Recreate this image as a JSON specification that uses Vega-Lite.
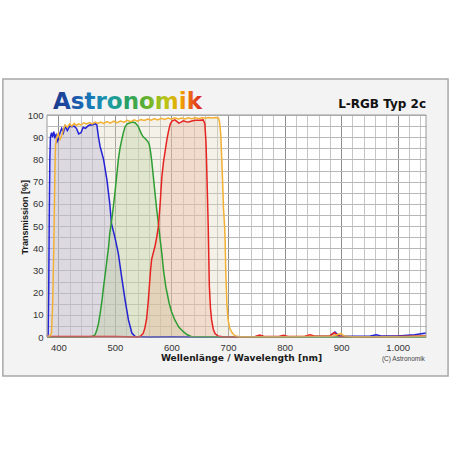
{
  "$schema": "https://vega.github.io/schema/vega-lite/v6.json",
  "width": 379,
  "height": 222,
  "autosize": {"type": "none"},
  "padding": {"left": 47, "top": 115, "right": 29, "bottom": 118},
  "background": "#f3f3f3",
  "view": {"stroke": null, "fill": "white"},
  "config": {
    "axis": {
      "domain": false,
      "ticks": false,
      "labelOverlap": false,
      "labelFont": "Liberation Sans",
      "labelFontSize": 9.5,
      "labelColor": "#333333",
      "titleColor": "#1a1a1a",
      "titleFontWeight": "bold",
      "gridWidth": 1
    }
  },
  "datasets": {
    "curves": [
      {"f": "B", "wl": 380, "t": 0.3}, {"f": "B", "wl": 382, "t": 1}, {"f": "B", "wl": 383, "t": 20}, {"f": "B", "wl": 384, "t": 55},
      {"f": "B", "wl": 385, "t": 80}, {"f": "B", "wl": 386, "t": 90}, {"f": "B", "wl": 388, "t": 92}, {"f": "B", "wl": 390, "t": 90},
      {"f": "B", "wl": 392, "t": 92.5}, {"f": "B", "wl": 394, "t": 90}, {"f": "B", "wl": 396, "t": 91}, {"f": "B", "wl": 398, "t": 88},
      {"f": "B", "wl": 400, "t": 89}, {"f": "B", "wl": 403, "t": 92}, {"f": "B", "wl": 406, "t": 94}, {"f": "B", "wl": 409, "t": 92},
      {"f": "B", "wl": 412, "t": 95}, {"f": "B", "wl": 416, "t": 93}, {"f": "B", "wl": 420, "t": 95}, {"f": "B", "wl": 424, "t": 94.7},
      {"f": "B", "wl": 428, "t": 95}, {"f": "B", "wl": 432, "t": 94}, {"f": "B", "wl": 436, "t": 91.5}, {"f": "B", "wl": 440, "t": 92},
      {"f": "B", "wl": 444, "t": 94.5}, {"f": "B", "wl": 448, "t": 94}, {"f": "B", "wl": 452, "t": 95}, {"f": "B", "wl": 456, "t": 95.6},
      {"f": "B", "wl": 460, "t": 95.5}, {"f": "B", "wl": 465, "t": 96}, {"f": "B", "wl": 468, "t": 95.6}, {"f": "B", "wl": 471, "t": 90},
      {"f": "B", "wl": 474, "t": 85.7}, {"f": "B", "wl": 480, "t": 80}, {"f": "B", "wl": 486, "t": 70.7}, {"f": "B", "wl": 491, "t": 60},
      {"f": "B", "wl": 494, "t": 51}, {"f": "B", "wl": 500, "t": 45}, {"f": "B", "wl": 506, "t": 37.8}, {"f": "B", "wl": 512, "t": 27},
      {"f": "B", "wl": 518, "t": 16.7}, {"f": "B", "wl": 524, "t": 7.7}, {"f": "B", "wl": 530, "t": 1.8}, {"f": "B", "wl": 536, "t": 0.2},
      {"f": "B", "wl": 560, "t": 0}, {"f": "B", "wl": 600, "t": 0.1}, {"f": "B", "wl": 650, "t": 0}, {"f": "B", "wl": 700, "t": 0},
      {"f": "B", "wl": 800, "t": 0}, {"f": "B", "wl": 850, "t": 0.2}, {"f": "B", "wl": 880, "t": 0.5}, {"f": "B", "wl": 889, "t": 2.3},
      {"f": "B", "wl": 895, "t": 0.8}, {"f": "B", "wl": 900, "t": 0.3}, {"f": "B", "wl": 950, "t": 0.3}, {"f": "B", "wl": 962, "t": 1},
      {"f": "B", "wl": 972, "t": 0.4}, {"f": "B", "wl": 1000, "t": 0.4}, {"f": "B", "wl": 1030, "t": 1}, {"f": "B", "wl": 1050, "t": 1.8},

      {"f": "G", "wl": 380, "t": 0}, {"f": "G", "wl": 450, "t": 0}, {"f": "G", "wl": 460, "t": 0.2}, {"f": "G", "wl": 465, "t": 1},
      {"f": "G", "wl": 468, "t": 3}, {"f": "G", "wl": 471, "t": 6}, {"f": "G", "wl": 474, "t": 10.7}, {"f": "G", "wl": 477, "t": 16},
      {"f": "G", "wl": 480, "t": 22.7}, {"f": "G", "wl": 483, "t": 28.5}, {"f": "G", "wl": 486, "t": 34.7}, {"f": "G", "wl": 489, "t": 41},
      {"f": "G", "wl": 491, "t": 46.8}, {"f": "G", "wl": 494, "t": 52}, {"f": "G", "wl": 497, "t": 58}, {"f": "G", "wl": 500, "t": 64.7},
      {"f": "G", "wl": 503, "t": 72}, {"f": "G", "wl": 506, "t": 79.7}, {"f": "G", "wl": 509, "t": 85}, {"f": "G", "wl": 512, "t": 88.7},
      {"f": "G", "wl": 515, "t": 92}, {"f": "G", "wl": 518, "t": 94.7}, {"f": "G", "wl": 522, "t": 96}, {"f": "G", "wl": 527, "t": 96.5},
      {"f": "G", "wl": 532, "t": 96.8}, {"f": "G", "wl": 536, "t": 96.4}, {"f": "G", "wl": 541, "t": 95}, {"f": "G", "wl": 544, "t": 93.2},
      {"f": "G", "wl": 547, "t": 91.5}, {"f": "G", "wl": 550, "t": 90.2}, {"f": "G", "wl": 553, "t": 89.5}, {"f": "G", "wl": 556, "t": 88.7},
      {"f": "G", "wl": 559, "t": 87.8}, {"f": "G", "wl": 561, "t": 86.5}, {"f": "G", "wl": 563, "t": 83.5}, {"f": "G", "wl": 565, "t": 79.7},
      {"f": "G", "wl": 568, "t": 72.2}, {"f": "G", "wl": 571, "t": 64.7}, {"f": "G", "wl": 574, "t": 57.2}, {"f": "G", "wl": 577, "t": 51},
      {"f": "G", "wl": 580, "t": 44}, {"f": "G", "wl": 583, "t": 37.7}, {"f": "G", "wl": 586, "t": 30}, {"f": "G", "wl": 590, "t": 22.7},
      {"f": "G", "wl": 596, "t": 15.2}, {"f": "G", "wl": 600, "t": 11.5}, {"f": "G", "wl": 606, "t": 7.7}, {"f": "G", "wl": 613, "t": 4.5},
      {"f": "G", "wl": 621, "t": 2.4}, {"f": "G", "wl": 628, "t": 1}, {"f": "G", "wl": 635, "t": 0.2}, {"f": "G", "wl": 700, "t": 0},
      {"f": "G", "wl": 1050, "t": 0},

      {"f": "R", "wl": 380, "t": 0.2}, {"f": "R", "wl": 500, "t": 0.2}, {"f": "R", "wl": 540, "t": 0}, {"f": "R", "wl": 545, "t": 0.3},
      {"f": "R", "wl": 550, "t": 1.6}, {"f": "R", "wl": 553, "t": 4}, {"f": "R", "wl": 556, "t": 8}, {"f": "R", "wl": 559, "t": 16},
      {"f": "R", "wl": 561, "t": 23}, {"f": "R", "wl": 563, "t": 30}, {"f": "R", "wl": 565, "t": 35}, {"f": "R", "wl": 568, "t": 38},
      {"f": "R", "wl": 571, "t": 41}, {"f": "R", "wl": 574, "t": 45}, {"f": "R", "wl": 577, "t": 50}, {"f": "R", "wl": 580, "t": 60},
      {"f": "R", "wl": 583, "t": 72}, {"f": "R", "wl": 586, "t": 79}, {"f": "R", "wl": 589, "t": 84}, {"f": "R", "wl": 592, "t": 89},
      {"f": "R", "wl": 595, "t": 93}, {"f": "R", "wl": 598, "t": 96}, {"f": "R", "wl": 601, "t": 97.3}, {"f": "R", "wl": 606, "t": 97.8},
      {"f": "R", "wl": 610, "t": 97}, {"f": "R", "wl": 613, "t": 96.3}, {"f": "R", "wl": 617, "t": 96.8}, {"f": "R", "wl": 621, "t": 97.4},
      {"f": "R", "wl": 626, "t": 97}, {"f": "R", "wl": 630, "t": 96.9}, {"f": "R", "wl": 636, "t": 97.3}, {"f": "R", "wl": 642, "t": 97.6},
      {"f": "R", "wl": 650, "t": 97.6}, {"f": "R", "wl": 656, "t": 97.8}, {"f": "R", "wl": 659, "t": 96.2}, {"f": "R", "wl": 661, "t": 88},
      {"f": "R", "wl": 662, "t": 79.7}, {"f": "R", "wl": 663, "t": 70}, {"f": "R", "wl": 665, "t": 50}, {"f": "R", "wl": 667, "t": 23},
      {"f": "R", "wl": 669, "t": 13}, {"f": "R", "wl": 671, "t": 7.7}, {"f": "R", "wl": 674, "t": 3.5}, {"f": "R", "wl": 677, "t": 1.6},
      {"f": "R", "wl": 682, "t": 0.5}, {"f": "R", "wl": 690, "t": 0.1}, {"f": "R", "wl": 720, "t": 0}, {"f": "R", "wl": 748, "t": 0.2},
      {"f": "R", "wl": 756, "t": 0.9}, {"f": "R", "wl": 764, "t": 0.2}, {"f": "R", "wl": 790, "t": 0.2}, {"f": "R", "wl": 798, "t": 0.8},
      {"f": "R", "wl": 806, "t": 0.2}, {"f": "R", "wl": 836, "t": 0.3}, {"f": "R", "wl": 845, "t": 1}, {"f": "R", "wl": 854, "t": 0.3},
      {"f": "R", "wl": 880, "t": 0.5}, {"f": "R", "wl": 888, "t": 2}, {"f": "R", "wl": 894, "t": 0.5}, {"f": "R", "wl": 900, "t": 0.2},
      {"f": "R", "wl": 950, "t": 0.1}, {"f": "R", "wl": 1000, "t": 0.2}, {"f": "R", "wl": 1050, "t": 0.5},

      {"f": "L", "wl": 380, "t": 0.3}, {"f": "L", "wl": 386, "t": 0.5}, {"f": "L", "wl": 388, "t": 2}, {"f": "L", "wl": 390, "t": 15},
      {"f": "L", "wl": 392, "t": 40}, {"f": "L", "wl": 394, "t": 75}, {"f": "L", "wl": 395, "t": 86}, {"f": "L", "wl": 397, "t": 90},
      {"f": "L", "wl": 400, "t": 91.7}, {"f": "L", "wl": 403, "t": 89}, {"f": "L", "wl": 406, "t": 90.5}, {"f": "L", "wl": 409, "t": 93.5},
      {"f": "L", "wl": 412, "t": 95.5}, {"f": "L", "wl": 416, "t": 94.5}, {"f": "L", "wl": 420, "t": 96}, {"f": "L", "wl": 424, "t": 95},
      {"f": "L", "wl": 428, "t": 96.2}, {"f": "L", "wl": 432, "t": 95.3}, {"f": "L", "wl": 436, "t": 96}, {"f": "L", "wl": 440, "t": 95.5},
      {"f": "L", "wl": 445, "t": 96.5}, {"f": "L", "wl": 450, "t": 96}, {"f": "L", "wl": 455, "t": 96.6}, {"f": "L", "wl": 460, "t": 96},
      {"f": "L", "wl": 465, "t": 96.8}, {"f": "L", "wl": 470, "t": 96.2}, {"f": "L", "wl": 475, "t": 96.8}, {"f": "L", "wl": 480, "t": 96.2},
      {"f": "L", "wl": 486, "t": 97}, {"f": "L", "wl": 492, "t": 96.3}, {"f": "L", "wl": 498, "t": 97.2}, {"f": "L", "wl": 504, "t": 96.5},
      {"f": "L", "wl": 510, "t": 97.3}, {"f": "L", "wl": 516, "t": 96.8}, {"f": "L", "wl": 522, "t": 97.6}, {"f": "L", "wl": 528, "t": 97},
      {"f": "L", "wl": 534, "t": 97.8}, {"f": "L", "wl": 540, "t": 97.2}, {"f": "L", "wl": 546, "t": 98}, {"f": "L", "wl": 552, "t": 97.5},
      {"f": "L", "wl": 558, "t": 98.2}, {"f": "L", "wl": 564, "t": 97.7}, {"f": "L", "wl": 570, "t": 98.4}, {"f": "L", "wl": 576, "t": 97.8},
      {"f": "L", "wl": 582, "t": 98.5}, {"f": "L", "wl": 588, "t": 98}, {"f": "L", "wl": 594, "t": 98.6}, {"f": "L", "wl": 600, "t": 98.1},
      {"f": "L", "wl": 606, "t": 98.7}, {"f": "L", "wl": 612, "t": 98.2}, {"f": "L", "wl": 618, "t": 98.6}, {"f": "L", "wl": 624, "t": 98.2},
      {"f": "L", "wl": 630, "t": 98.7}, {"f": "L", "wl": 636, "t": 98.3}, {"f": "L", "wl": 642, "t": 98.8}, {"f": "L", "wl": 648, "t": 98.4},
      {"f": "L", "wl": 654, "t": 98.8}, {"f": "L", "wl": 660, "t": 98.5}, {"f": "L", "wl": 666, "t": 98.9}, {"f": "L", "wl": 672, "t": 98.6},
      {"f": "L", "wl": 678, "t": 98.9}, {"f": "L", "wl": 683, "t": 98.7}, {"f": "L", "wl": 685, "t": 97}, {"f": "L", "wl": 687, "t": 92},
      {"f": "L", "wl": 689, "t": 80}, {"f": "L", "wl": 691, "t": 66}, {"f": "L", "wl": 692, "t": 58}, {"f": "L", "wl": 694, "t": 50},
      {"f": "L", "wl": 695, "t": 42}, {"f": "L", "wl": 696, "t": 30}, {"f": "L", "wl": 698, "t": 15}, {"f": "L", "wl": 700, "t": 8},
      {"f": "L", "wl": 703, "t": 4}, {"f": "L", "wl": 707, "t": 2}, {"f": "L", "wl": 712, "t": 0.6}, {"f": "L", "wl": 720, "t": 0.1},
      {"f": "L", "wl": 800, "t": 0.1}, {"f": "L", "wl": 850, "t": 0.2}, {"f": "L", "wl": 885, "t": 0.3}, {"f": "L", "wl": 895, "t": 1.2},
      {"f": "L", "wl": 900, "t": 1.5}, {"f": "L", "wl": 905, "t": 0.5}, {"f": "L", "wl": 920, "t": 0.1}, {"f": "L", "wl": 1000, "t": 0.1},
      {"f": "L", "wl": 1050, "t": 0.3}
    ]
  },
  "layer": [
    {
      "data": {"values": [{}]},
      "mark": {"type": "rect", "fill": "white", "strokeWidth": 0},
      "encoding": {
        "x": {
          "datum": 200, "type": "quantitative",
          "scale": {"domain": [380, 1050], "nice": false, "zero": false},
          "axis": {
            "grid": true,
            "tickCount": 100,
            "labelOverlap": false,
            "title": "Wellenlänge / Wavelength [nm]",
            "titleFont": "DejaVu Sans", "titleFontSize": 9.1,
            "titleX": 194, "titleY": 23.5, "titleBaseline": "alphabetic",
            "values": [400, 420, 440, 460, 480, 500, 520, 540, 560, 580, 600, 620, 640, 660, 680, 700, 720, 740, 760, 780, 800, 820, 840, 860, 880, 900, 920, 940, 960, 980, 1000, 1020, 1040],
            "labelExpr": "datum.value % 100 === 0 ? (datum.value === 1000 ? '1.000' : format(datum.value, 'd')) : ''",
            "labelPadding": 5,
            "gridColor": {"condition": {"test": "datum.value % 100 === 0", "value": "#8e8e8e"}, "value": "#c6c6c6"}
          }
        },
        "x2": {"datum": 1200},
        "y": {
          "datum": 116.2, "type": "quantitative",
          "scale": {"domain": [0, 100], "nice": false, "zero": false},
          "axis": {
            "grid": true,
            "tickCount": 100,
            "labelOverlap": false,
            "title": "Transmission [%]",
            "titleFont": "Liberation Sans", "titleFontSize": 9,
            "titleX": -18, "titleY": 101.7, "titleBaseline": "bottom",
            "values": [0, 5, 10, 15, 20, 25, 30, 35, 40, 45, 50, 55, 60, 65, 70, 75, 80, 85, 90, 95, 100],
            "labelExpr": "datum.value % 10 === 0 ? datum.label : ''",
            "labelPadding": 4,
            "gridColor": "#b8b8b8"
          }
        },
        "y2": {"datum": 170}
      }
    },
    {
      "data": {"values": [{}]},
      "mark": {"type": "rect", "fill": "white", "strokeWidth": 0},
      "encoding": {
        "x": {"datum": 200, "type": "quantitative"},
        "x2": {"datum": 1200},
        "y": {"datum": -70, "type": "quantitative"},
        "y2": {"datum": -17.6}
      }
    },
    {
      "data": {"values": [{}]},
      "mark": {"type": "rect", "fill": "white", "strokeWidth": 0},
      "encoding": {
        "x": {"datum": 200, "type": "quantitative"},
        "x2": {"datum": 302},
        "y": {"datum": -70, "type": "quantitative"},
        "y2": {"datum": 170}
      }
    },
    {
      "data": {"values": [{}]},
      "mark": {"type": "rect", "fill": "white", "strokeWidth": 0},
      "encoding": {
        "x": {"datum": 1089, "type": "quantitative"},
        "x2": {"datum": 1200},
        "y": {"datum": -70, "type": "quantitative"},
        "y2": {"datum": 170}
      }
    },
    {
      "data": {"values": [{}]},
      "mark": {"type": "rect", "fill": "transparent", "stroke": "#a8a8a8", "strokeWidth": 1.5},
      "encoding": {
        "x": {"datum": 302, "type": "quantitative"},
        "x2": {"datum": 1089},
        "y": {"datum": -17.6, "type": "quantitative"},
        "y2": {"datum": 116.2}
      }
    },
    {
      "data": {"name": "curves"},
      "mark": {"type": "area", "fillOpacity": 0.35},
      "encoding": {
        "x": {"field": "wl", "type": "quantitative"},
        "y": {"field": "t", "type": "quantitative", "stack": null},
        "fill": {"field": "f", "type": "nominal", "scale": {"domain": ["L", "B", "G", "R"], "range": ["#e0d8c0", "#9c94dc", "#a8cc88", "#f0a088"]}, "legend": null}
      }
    },
    {
      "data": {"name": "curves"},
      "mark": {"type": "line", "strokeWidth": 1.5},
      "encoding": {
        "x": {"field": "wl", "type": "quantitative"},
        "y": {"field": "t", "type": "quantitative"},
        "color": {"field": "f", "type": "nominal", "scale": {"domain": ["L", "B", "G", "R"], "range": ["#f2b133", "#2323d4", "#2e9e32", "#e52421"]}, "legend": null}
      }
    },
    {
      "data": {"values": [{}]},
      "mark": {"type": "rect", "fill": "transparent", "stroke": "#9a9a9a", "strokeWidth": 1},
      "encoding": {
        "x": {"datum": 380, "type": "quantitative"},
        "x2": {"datum": 1050},
        "y": {"datum": 0, "type": "quantitative"},
        "y2": {"datum": 100}
      }
    },
    {
      "data": {"values": [{"label": "Astronomik"}]},
      "mark": {
        "type": "text", "align": "left", "baseline": "alphabetic",
        "font": "DejaVu Sans", "fontSize": 23, "fontWeight": "bold",
        "fill": {"gradient": "linear", "x1": 0, "x2": 1, "y1": 0, "y2": 0,
          "stops": [
            {"offset": 0, "color": "#1a3a8f"}, {"offset": 0.12, "color": "#1f4fa6"}, {"offset": 0.25, "color": "#1a78b8"},
            {"offset": 0.38, "color": "#1a9aa8"}, {"offset": 0.5, "color": "#28a060"}, {"offset": 0.62, "color": "#60b030"},
            {"offset": 0.75, "color": "#b8c418"}, {"offset": 0.85, "color": "#f0a800"}, {"offset": 0.93, "color": "#e85a18"},
            {"offset": 1, "color": "#d82020"}
          ]}
      },
      "encoding": {
        "x": {"datum": 390.6, "type": "quantitative"},
        "y": {"datum": 102.6, "type": "quantitative"},
        "text": {"field": "label"}
      }
    },
    {
      "data": {"values": [{"label": "L-RGB Typ 2c"}]},
      "mark": {"type": "text", "align": "right", "baseline": "alphabetic", "font": "DejaVu Sans", "fontSize": 12, "fontWeight": "bold", "color": "#111111"},
      "encoding": {
        "x": {"datum": 1050, "type": "quantitative"},
        "y": {"datum": 103, "type": "quantitative"},
        "text": {"field": "label"}
      }
    },
    {
      "data": {"values": [{"label": "(C) Astronomik"}]},
      "mark": {"type": "text", "align": "right", "baseline": "alphabetic", "font": "Liberation Sans", "fontSize": 6.5, "color": "#444444"},
      "encoding": {
        "x": {"datum": 1048, "type": "quantitative"},
        "y": {"datum": -11, "type": "quantitative"},
        "text": {"field": "label"}
      }
    }
  ]
}
